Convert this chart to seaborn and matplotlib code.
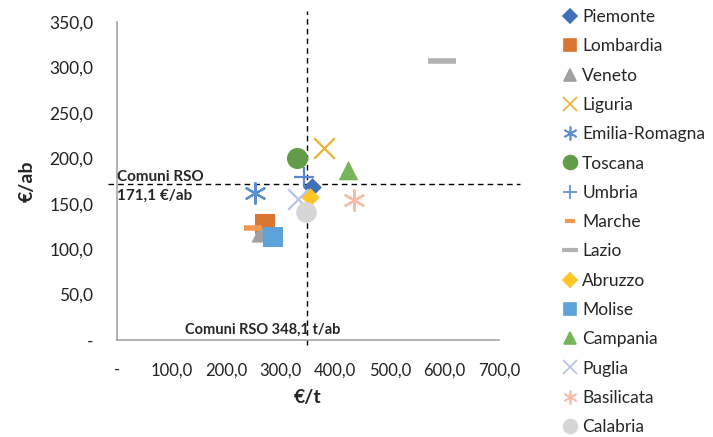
import matplotlib
matplotlib.use("Agg")
import matplotlib.pyplot as plt
from matplotlib.lines import Line2D
from matplotlib.ticker import FuncFormatter, MultipleLocator
import seaborn as sns

# Data (x: €/t, y: €/ab)
regions = ["Piemonte", "Lombardia", "Veneto", "Liguria", "Emilia-Romagna",
           "Toscana", "Umbria", "Marche", "Lazio", "Abruzzo", "Molise",
           "Campania", "Puglia", "Basilicata", "Calabria"]
eur_t = [357, 271, 262, 379, 253, 329, 343, 249, 595, 353, 286, 423, 332, 434, 346]
eur_ab = [168, 128, 118, 211, 162, 200, 179, 123, 307, 157, 113, 187, 155, 154, 141]
ref_t = 348.1
ref_ab = 171.1

colors = ["#3F6FB6", "#DA7630", "#A0A0A0", "#EDB232", "#5A8FCB", "#639C48",
          "#5B87CF", "#F39A52", "#B2B2B2", "#FFC425", "#5EA2DA", "#77B45A",
          "#B7C3E6", "#F8BCA6", "#D6D6D6"]
markers = ["D", "s", "^", "x", (6, 2, 0), "o", "+", "_", "_", "D", "s", "^",
           "x", (6, 2, 0), "o"]
sizes = [90, 190, 170, 220, 220, 230, 200, 170, 380, 90, 200, 200, 220, 220, 220]
leg_sizes = [7, 9, 9, 10, 10, 10, 10, 7, 11, 7, 9, 9, 10, 10, 10]

sns.set_style("white")
plt.rcParams["font.family"] = ["Lato", "DejaVu Sans"]

fig = plt.figure(figsize=(7.13, 4.37), dpi=100)
ax = fig.add_axes([0.164, 0.222, 0.536, 0.728])

handles = []
for name, x, y, c, m, s, ls in zip(regions, eur_t, eur_ab, colors, markers, sizes, leg_sizes):
    filled = m in ("D", "s", "^", "o")
    sns.scatterplot(x=[x], y=[y], marker=m, s=s, color=c, edgecolor=c,
                    linewidth=0 if filled else (4 if m == "_" else 1.6),
                    ax=ax, legend=False, zorder=3)
    handles.append(Line2D([], [], linestyle="none", marker=m, color=c,
                          markerfacecolor=c, markeredgecolor=c,
                          markeredgewidth=(3 if m == "_" else 1.2),
                          markersize=ls, label=name))

ax.plot([-17, 738], [ref_ab, ref_ab], ls=(0, (4, 3)), color="black", lw=1, clip_on=False, zorder=2)
ax.plot([ref_t, ref_t], [-6, 362], ls=(0, (4, 3)), color="black", lw=1, clip_on=False, zorder=2)

ax.text(1, ref_ab - 2, "Comuni RSO\n171,1 €/ab", ha="left", va="center",
        fontsize=11, fontweight="bold", linespacing=1.45, zorder=4)
ax.text(125, 4, "Comuni RSO 348,1 t/ab", ha="left", va="bottom",
        fontsize=10.5, fontweight="bold", zorder=4)

ax.set_xlim(0, 700)
ax.set_ylim(0, 350)
ax.xaxis.set_major_locator(MultipleLocator(100))
ax.yaxis.set_major_locator(MultipleLocator(50))
fmt = FuncFormatter(lambda v, p: "-" if abs(v) < 1e-9 else f"{v:.1f}".replace(".", ","))
ax.xaxis.set_major_formatter(fmt)
ax.yaxis.set_major_formatter(fmt)
ax.tick_params(axis="x", length=0, pad=16, labelsize=12, colors="#222222")
ax.tick_params(axis="y", length=0, pad=17, labelsize=12.5, colors="#222222")
ax.set_xlabel("€/t", fontsize=14, fontweight="bold", labelpad=8)
ax.set_ylabel("€/ab", fontsize=14, fontweight="bold", labelpad=10)

for side in ("top", "right"):
    ax.spines[side].set_visible(False)
for side in ("left", "bottom"):
    ax.spines[side].set_color("#A6A6A6")
    ax.spines[side].set_linewidth(1.2)

fig.legend(handles=handles, loc="upper left", bbox_to_anchor=(0.78, 0.995),
           frameon=False, fontsize=12.5, labelspacing=0.765, handlelength=0.8,
           handletextpad=0.3, borderaxespad=0)

fig.savefig("out.png", dpi=100)
